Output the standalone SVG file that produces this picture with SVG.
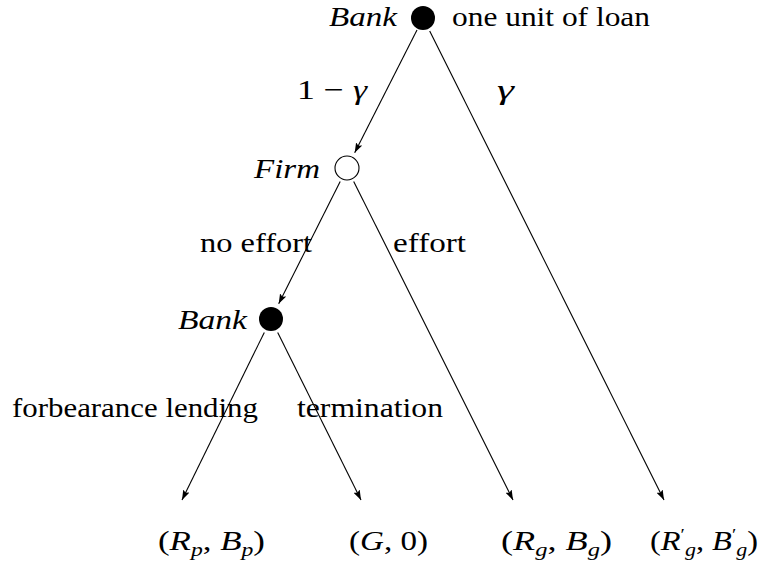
<svg xmlns="http://www.w3.org/2000/svg" width="760" height="561" viewBox="0 0 760 561">
<style>
text{font-family:'Liberation Serif','DejaVu Serif',serif;font-size:28px;fill:#000}
.i{font-style:italic}
.s{font-size:19px;font-style:italic}
.p{font-size:17px}
.edge{stroke:#000;stroke-width:1.1;fill:none}
</style>
<defs>
<marker id="ah" viewBox="0 0 10 7" refX="10" refY="3.5" markerWidth="10" markerHeight="7" markerUnits="userSpaceOnUse" orient="auto">
<path d="M0,0 L10,3.5 L0,7 L2,3.5 Z" fill="#000"/>
</marker>
</defs>
<rect width="760" height="561" fill="#fff"/>
<g id="connectors">
<line class="edge" x1="417" y1="30" x2="354.7" y2="152.8" marker-end="url(#ah)"/>
<line class="edge" x1="429.7" y1="31" x2="664" y2="500" marker-end="url(#ah)"/>
<line class="edge" x1="340.2" y1="181.4" x2="278.7" y2="303.8" marker-end="url(#ah)"/>
<line class="edge" x1="353.7" y1="181.4" x2="513" y2="500" marker-end="url(#ah)"/>
<line class="edge" x1="264.3" y1="332.4" x2="182" y2="500" marker-end="url(#ah)"/>
<line class="edge" x1="277.7" y1="332.4" x2="361" y2="500" marker-end="url(#ah)"/>
</g>
<g id="edge-labels">
<text x="297" y="99" textLength="70" lengthAdjust="spacingAndGlyphs">1 − <tspan class="i">γ</tspan></text>
<text x="497" y="99" class="i" textLength="17" lengthAdjust="spacingAndGlyphs">γ</text>
<text x="200" y="252" textLength="112" lengthAdjust="spacingAndGlyphs">no effort</text>
<text x="393" y="252" textLength="73" lengthAdjust="spacingAndGlyphs">effort</text>
<text x="12" y="417" textLength="246" lengthAdjust="spacingAndGlyphs">forbearance lending</text>
<text x="297" y="417" textLength="146" lengthAdjust="spacingAndGlyphs">termination</text>
</g>
<g id="n-bank1">
<circle cx="423" cy="18" r="12" fill="#000"/>
<text x="329" y="26" class="i" textLength="68" lengthAdjust="spacingAndGlyphs">Bank</text>
<text x="452" y="26" textLength="198" lengthAdjust="spacingAndGlyphs">one unit of loan</text>
</g>
<g id="n-firm">
<circle cx="347" cy="168" r="12" fill="#fff" stroke="#000" stroke-width="1.1"/>
<text x="254" y="178" class="i" textLength="66" lengthAdjust="spacingAndGlyphs">Firm</text>
</g>
<g id="n-bank2">
<circle cx="271" cy="319" r="12" fill="#000"/>
<text x="178" y="329" class="i" textLength="69" lengthAdjust="spacingAndGlyphs">Bank</text>
</g>
<g id="n-leaf1">
<text x="158" y="550" textLength="107" lengthAdjust="spacingAndGlyphs">(<tspan class="i">R</tspan><tspan class="s" dy="6">p</tspan><tspan dy="-6">, </tspan><tspan class="i">B</tspan><tspan class="s" dy="6">p</tspan><tspan dy="-6">)</tspan></text>
</g>
<g id="n-leaf2">
<text x="349" y="550" textLength="79" lengthAdjust="spacingAndGlyphs">(<tspan class="i">G</tspan>, 0)</text>
</g>
<g id="n-leaf3">
<text x="501" y="550" textLength="111" lengthAdjust="spacingAndGlyphs">(<tspan class="i">R</tspan><tspan class="s" dy="6">g</tspan><tspan dy="-6">, </tspan><tspan class="i">B</tspan><tspan class="s" dy="6">g</tspan><tspan dy="-6">)</tspan></text>
</g>
<g id="n-leaf4">
<text x="650" y="550" textLength="108" lengthAdjust="spacingAndGlyphs">(<tspan class="i">R</tspan><tspan class="p" dy="-10">′</tspan><tspan class="s" dy="16">g</tspan><tspan dy="-6">, </tspan><tspan class="i">B</tspan><tspan class="p" dy="-10">′</tspan><tspan class="s" dy="16">g</tspan><tspan dy="-6">)</tspan></text>
</g>
</svg>
